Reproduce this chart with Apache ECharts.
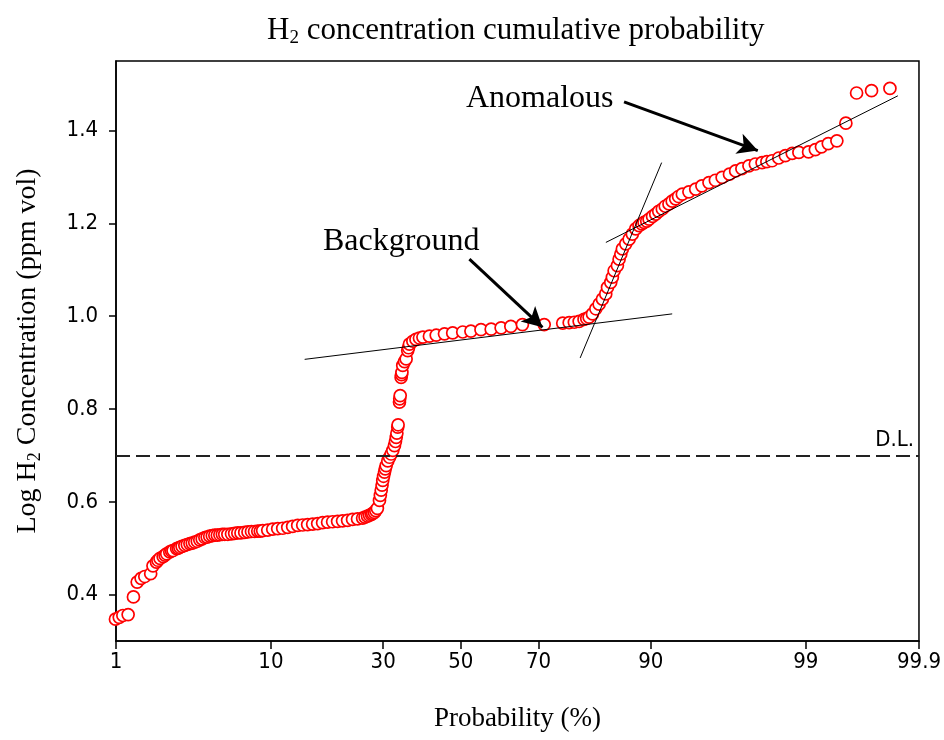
<!DOCTYPE html>
<html>
<head>
<meta charset="utf-8">
<script src="https://cdn.jsdelivr.net/npm/echarts@6/dist/echarts.min.js"></script>
<style>
html,body{margin:0;padding:0;background:#fff;}
#chart{width:944px;height:740px;}
</style>
</head>
<body>
<div id="chart"></div>
<script>
// ---------- data (probability %, log H2 concentration) ----------
const probPct = [
0.99,1.06,1.13,1.24,1.36,1.45,1.55,1.65,1.82,1.89,2.00,2.05,2.12,2.23,2.30,2.36,2.48,2.55,2.61,2.76,2.83,2.90,3.00,3.13,3.25,3.38,3.50,3.63,3.77,3.91,4.05,4.21,4.35,4.51,4.68,4.85,5.02,5.20,5.38,5.56,5.80,6.09,6.35,6.62,6.90,7.24,7.55,7.89,8.20,8.53,8.80,9.06,
9.63,10.22,10.83,11.47,12.14,12.82,13.55,14.30,15.06,15.87,16.70,17.55,18.43,19.35,20.28,21.24,22.24,23.25,24.29,25.37,25.90,26.45,26.90,27.33,27.60,27.99,28.30,28.67,
29.15,29.35,29.55,29.75,29.91,30.10,30.33,30.50,30.72,31.10,31.52,31.90,32.31,32.71,32.95,33.14,33.30,33.51,33.60,33.94,34.00,34.12,34.35,34.45,34.55,34.75,35.20,35.60,36.00,36.20,36.43,37.30,38.10,39.00,39.90,41.60,43.40,45.60,47.80,50.50,52.70,55.40,58.10,60.70,63.20,66.10,71.30,
75.40,76.75,77.80,78.75,79.70,80.20,80.65,81.27,81.87,82.45,83.02,83.58,83.87,84.40,84.66,84.94,85.45,85.71,85.97,86.20,86.70,87.18,87.63,88.09,88.53,88.90,89.17,89.50,89.79,90.20,90.56,90.90,91.29,91.60,91.98,92.30,92.63,92.90,93.24,93.80,94.34,94.80,95.29,95.70,96.10,96.50,96.81,97.10,97.40,97.65,97.89,98.05,98.21,98.40,98.57,98.73,98.87,99.05,99.16,99.25,99.34,99.44,99.53,99.62,99.72,99.81
];
const logH2 = [
0.347,0.351,0.355,0.357,0.395,0.427,0.435,0.439,0.445,0.462,0.470,0.474,0.478,0.482,0.485,0.488,0.492,0.494,0.495,0.499,0.500,0.502,0.504,0.506,0.508,0.510,0.511,0.513,0.515,0.518,0.520,0.523,0.524,0.526,0.527,0.528,0.528,0.529,0.530,0.530,0.530,0.531,0.532,0.533,0.533,0.534,0.535,0.536,0.536,0.537,0.537,0.538,
0.539,0.541,0.542,0.543,0.545,0.547,0.549,0.550,0.551,0.552,0.553,0.555,0.556,0.557,0.558,0.559,0.560,0.562,0.563,0.565,0.567,0.569,0.571,0.573,0.575,0.577,0.581,0.586,
0.603,0.614,0.625,0.636,0.646,0.655,0.664,0.671,0.678,0.688,0.696,0.703,0.711,0.721,0.730,0.739,0.748,0.761,0.766,0.815,0.822,0.829,0.868,0.874,0.879,0.894,0.902,0.908,0.926,0.932,0.940,0.946,0.950,0.953,0.955,0.957,0.959,0.962,0.964,0.966,0.968,0.971,0.972,0.975,0.978,0.982,0.982,
0.985,0.986,0.987,0.989,0.993,0.995,0.998,1.005,1.016,1.026,1.037,1.048,1.062,1.073,1.084,1.098,1.109,1.123,1.134,1.145,1.156,1.166,1.177,1.188,1.195,1.199,1.202,1.205,1.209,1.215,1.220,1.226,1.231,1.237,1.242,1.248,1.253,1.258,1.263,1.268,1.274,1.281,1.288,1.293,1.299,1.306,1.313,1.318,1.324,1.328,1.331,1.333,1.335,1.341,1.346,1.351,1.353,1.354,1.359,1.365,1.372,1.378,1.416,1.481,1.486,1.491
];
// fitted trend lines [prob %, log value]
const backgroundFit = [[14.6,0.907],[92.3,1.005]];
const transitionFit = [[78.95,0.910],[91.22,1.331]];
const anomalousFit = [[83.6,1.159],[99.84,1.475]];
// annotation arrows [start, tip]
const anomalousArrow = [[86.45,1.462],[97.74,1.357]];
const backgroundArrow = [[52.3,1.123],[70.9,0.976]];
const detectionLimit = 0.7;
const probTickLabels = ['1','10','30','50','70','90','99','99.9'];
const yTickValues = [0.4,0.6,0.8,1.0,1.2,1.4];

// ---------- normal probability scale ----------
function normInv(p){
  const a=[-3.969683028665376e+01,2.209460984245205e+02,-2.759285104469687e+02,1.383577518672690e+02,-3.066479806614716e+01,2.506628277459239e+00];
  const b=[-5.447609879822406e+01,1.615858368580409e+02,-1.556989798598866e+02,6.680131188771972e+01,-1.328068155288572e+01];
  const c=[-7.784894002430293e-03,-3.223964580411365e-01,-2.400758277161838e+00,-2.549671007276712e+00,4.374664141464968e+00,2.938163982698783e+00];
  const d=[7.784695709041462e-03,3.224671290700398e-01,2.445134137142996e+00,3.754408661907416e+00];
  const plow=0.02425, phigh=1-plow;
  let q,r;
  if(p<plow){q=Math.sqrt(-2*Math.log(p));return (((((c[0]*q+c[1])*q+c[2])*q+c[3])*q+c[4])*q+c[5])/((((d[0]*q+d[1])*q+d[2])*q+d[3])*q+1);}
  if(p<=phigh){q=p-0.5;r=q*q;return (((((a[0]*r+a[1])*r+a[2])*r+a[3])*r+a[4])*r+a[5])*q/(((((b[0]*r+b[1])*r+b[2])*r+b[3])*r+b[4])*r+1);}
  q=Math.sqrt(-2*Math.log(1-p));
  return -(((((c[0]*q+c[1])*q+c[2])*q+c[3])*q+c[4])*q+c[5])/((((d[0]*q+d[1])*q+d[2])*q+d[3])*q+1);
}
const z = pct => normInv(pct/100);
const toXY = pair => [z(pair[0]), pair[1]];

const scatterData = probPct.map((p,i)=>[z(p), logH2[i]]);
const xTickValues = probTickLabels.map(t=>z(parseFloat(t)));
function xLabel(v){
  for(let i=0;i<xTickValues.length;i++){ if(Math.abs(xTickValues[i]-v)<1e-6) return probTickLabels[i]; }
  return '';
}

const serif = '"Liberation Serif","Times New Roman",serif';
const sans = '"DejaVu Sans Condensed","DejaVu Sans",sans-serif';

const fitSeries = (d)=>({
  type:'line', data:d.map(toXY), symbol:'none', silent:true, z:5,
  lineStyle:{color:'#000',width:1}
});

const chart = echarts.init(document.getElementById('chart'));
chart.setOption({
  animation:false,
  backgroundColor:'#fff',
  title:{
    text:'{n|H}{s|2}{n| concentration cumulative probability}',
    left:262, top:8,
    textStyle:{
      fontWeight:'normal',
      rich:{
        n:{fontFamily:serif,fontSize:31,fontWeight:'normal',color:'#000'},
        s:{fontFamily:serif,fontSize:19,fontWeight:'normal',color:'#000',padding:[16,0,0,0]}
      }
    }
  },
  grid:{left:116,right:24,top:61,bottom:99,show:true,borderColor:'#000',borderWidth:1.5,containLabel:false},
  xAxis:{
    type:'value', min:z(1), max:z(99.9),
    name:'Probability (%)', nameLocation:'middle', nameGap:64,
    nameTextStyle:{fontFamily:serif,fontSize:27,color:'#000'},
    axisLine:{show:true,onZero:false,lineStyle:{color:'#000',width:1.5}},
    axisTick:{show:true,customValues:xTickValues,length:8,lineStyle:{color:'#000',width:1.5}},
    axisLabel:{customValues:xTickValues,formatter:xLabel,margin:10,fontFamily:sans,fontSize:22,color:'#000'},
    splitLine:{show:false}
  },
  yAxis:{
    type:'value', min:0.3, max:1.55,
    name:'{n|Log H}{s|2}{n| Concentration (ppm vol)}', nameLocation:'middle', nameGap:72,
    nameTextStyle:{rich:{
      n:{fontFamily:serif,fontSize:28,color:'#000'},
      s:{fontFamily:serif,fontSize:18,color:'#000',padding:[14,0,0,0]}
    }},
    axisLine:{show:true,onZero:false,lineStyle:{color:'#000',width:1.5}},
    axisTick:{show:true,customValues:yTickValues,length:7,lineStyle:{color:'#000',width:1.5}},
    axisLabel:{customValues:yTickValues,formatter:v=>v.toFixed(1),margin:18,fontFamily:sans,fontSize:22,color:'#000'},
    splitLine:{show:false}
  },
  series:[
    {
      type:'scatter', data:scatterData, symbol:'circle', symbolSize:12, clip:false, z:3,
      itemStyle:{color:'#fff',borderColor:'#ff0000',borderWidth:1.7,opacity:1},
      markLine:{
        silent:true, animation:false, symbol:['none','none'],
        label:{show:true,position:'insideEndTop',formatter:'D.L.',fontFamily:sans,fontSize:22,color:'#000',distance:[5,4]},
        lineStyle:{color:'#222',width:2,type:[14,6]},
        data:[{yAxis:detectionLimit}]
      }
    },
    fitSeries(backgroundFit),
    fitSeries(transitionFit),
    fitSeries(anomalousFit),
    {
      type:'line', data:[], silent:true, z:6,
      markLine:{
        silent:true, animation:false, symbol:['none','arrow'], symbolSize:[16,20],
        label:{show:false},
        lineStyle:{color:'#000',width:3,type:'solid'},
        data:[
          [{coord:toXY(anomalousArrow[0])},{coord:toXY(anomalousArrow[1])}],
          [{coord:toXY(backgroundArrow[0])},{coord:toXY(backgroundArrow[1])}]
        ]
      }
    }
  ],
  graphic:[
    {type:'text',left:466,top:83,style:{text:'Anomalous',font:'32px '+serif,fill:'#000'}},
    {type:'text',left:323,top:226,style:{text:'Background',font:'32px '+serif,fill:'#000'}}
  ]
});
</script>
</body>
</html>
